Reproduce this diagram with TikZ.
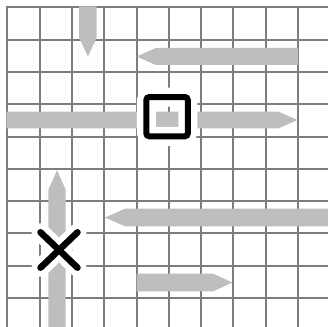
\documentclass[tikz,border=0pt]{standalone}
\begin{document}
\begin{tikzpicture}[x=1pt,y=-1pt,
  gridline/.style={draw=gridgray,line width=2pt},
  arrowfill/.style={fill=arrowgray,draw=none},
  halo/.style={draw=white,line width=#1,line cap=round},
  blackmark/.style={draw=black,line width=#1,line cap=round}]
\definecolor{gridgray}{HTML}{7D7D7D}
\definecolor{arrowgray}{HTML}{BDBEC0}
\useasboundingbox (0,0) rectangle (328,326);
\clip (0,0) rectangle (328,326);
% grid
\foreach \k in {0,...,10}{
  \draw[gridline] ({7.3+32.3*\k},6.3) -- ({7.3+32.3*\k},330);
  \draw[gridline] (6.3,{7.3+32.3*\k}) -- (330,{7.3+32.3*\k});
}
% gray arrows
\path[arrowfill] (79.2,6.4) -- (96.6,6.4) -- (96.6,37.7) -- (87.9,56.7) -- (79.2,37.7) -- cycle;
\path[arrowfill] (298,48) -- (298,65) -- (155.7,65) -- (136.7,56.5) -- (155.7,48) -- cycle;
\path[arrowfill] (6.4,111.7) -- (278.5,111.7) -- (297.5,120) -- (278.5,128.3) -- (6.4,128.3) -- cycle;
\path[arrowfill] (330,208.7) -- (125,208.7) -- (105,217.5) -- (125,226.3) -- (330,226.3) -- cycle;
\path[arrowfill] (136.7,273.7) -- (213.3,273.7) -- (232.3,282.5) -- (213.3,291.3) -- (136.7,291.3) -- cycle;
\path[arrowfill] (48.3,330) -- (48.3,189.7) -- (57,170.3) -- (65.7,189.7) -- (65.7,330) -- cycle;
% square marker
\draw[halo=19pt,rounded corners=4pt] (146.3,97) rectangle (187.8,136.3);
\draw[blackmark=6pt,rounded corners=3pt] (146.3,97) rectangle (187.8,136.3);
% X marker
\draw[halo=18pt] (40.5,232.3) -- (77.5,267.7) (77.5,232.3) -- (40.5,267.7);
\draw[blackmark=6.5pt] (40.5,232.3) -- (77.5,267.7) (77.5,232.3) -- (40.5,267.7);
\end{tikzpicture}
\end{document}
